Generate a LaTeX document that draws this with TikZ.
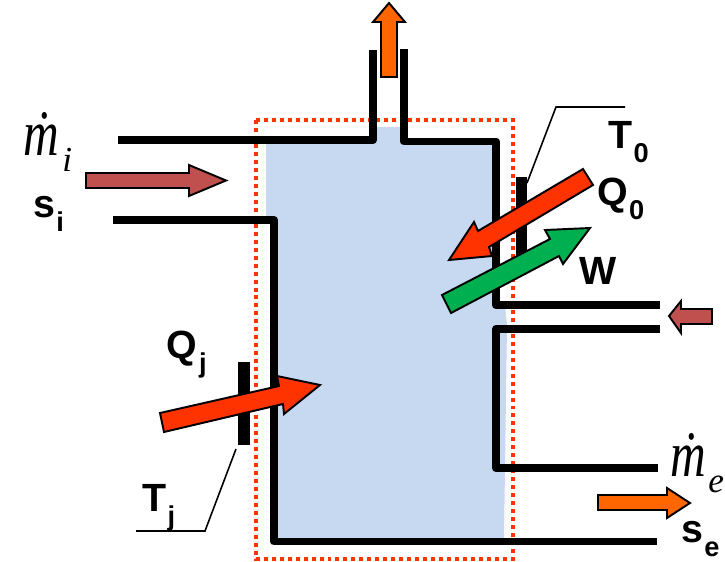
\documentclass[tikz,border=0pt]{standalone}
\usepackage{fontspec}
\setmainfont{Liberation Sans}
\newfontfamily\massfont{Liberation Serif}
\def\sublabel#1#2{{\fontsize{22.4}{24}\selectfont\bfseries #1\kern0.04em\raisebox{-0.36em}{\fontsize{15.5}{16}\selectfont #2}}}
\def\massflow#1{{\massfont\itshape\fontsize{37}{38}\selectfont\scalebox{0.76}[1]{ṁ}\kern1.5pt\raisebox{-0.25em}{\fontsize{20}{20}\selectfont #1}}}
\definecolor{basinblue}{HTML}{C6D9F1}
\definecolor{boundred}{HTML}{FF3300}
\definecolor{heatred}{HTML}{FF3300}
\definecolor{flowbrown}{HTML}{C0504D}
\definecolor{flowgreen}{HTML}{00B050}
\definecolor{floworange}{HTML}{FF6600}
\tikzset{
	wall/.style={line width=4.5pt, line join=round, color=black},
	boundary/.style={line width=2.3pt, color=boundred, dash pattern=on 2.27pt off 2.27pt},
	leader/.style={line width=0.9pt, color=black},
	blockarrow/.style={draw=black, line width=1.1pt, miter limit=6},
	lab/.style={anchor=base west, inner sep=0pt, outer sep=0pt},
}

\begin{document}
\begin{tikzpicture}[x=0.02cm, y=-0.02cm]
	\useasboundingbox (0, 0) rectangle (725, 562);
	%%%%% VOLUME %%%%%
	
	\fill[basinblue] (266, 144) -- (374, 144) -- (374, 127) -- (404, 127) -- (404, 140) -- (497, 140)
		-- (497, 300) -- (505, 305) -- (507, 325) -- (504, 540) -- (274, 540) -- (274, 220) -- (266, 220) -- cycle;
	
	\draw[boundary] (256, 120) rectangle (513, 559);
	
	%%%%% WALLS %%%%%
	
	\draw[wall] (118, 140) -- (373, 140) -- (373, 50);
	\draw[wall] (404, 49) -- (404, 141.5) -- (496, 141.5) -- (496, 305) -- (660, 305);
	\draw[wall] (660, 329) -- (496, 329) -- (496, 468) -- (658, 468);
	\draw[wall] (113, 220) -- (274, 220) -- (274, 541.5) -- (657, 541.5);
	
	\fill[black] (516, 177) rectangle (527, 256);
	\fill[black] (238, 362) rectangle (250, 445);
	\draw[leader] (527, 183) -- (556, 107) -- (625, 107);
	\draw[leader] (236, 449) -- (205, 531) -- (136, 531);
	
	%%%%% ARROWS %%%%%
	
	\draw[blockarrow, fill=flowbrown] (86, 173) -- (189, 173) -- (189, 165) -- (226, 180.5) -- (189, 196) -- (189, 188) -- (86, 188) -- cycle;
	\draw[blockarrow, fill=floworange] (381, 77) -- (381, 22) -- (373, 22) -- (389, 3) -- (405, 22) -- (397, 22) -- (397, 77) -- cycle;
	\draw[blockarrow, fill=heatred] (583, 169) -- (593, 185) -- (489, 247) -- (492, 256) -- (449, 260) -- (474, 222) -- (478, 231) -- cycle;
	\draw[blockarrow, fill=flowgreen] (442, 295) -- (550, 239) -- (545, 230) -- (590, 228) -- (563, 264) -- (559, 256) -- (451, 313) -- cycle;
	\draw[blockarrow, fill=heatred] (160, 413) -- (279, 386) -- (277, 376) -- (320, 385) -- (284, 414) -- (283, 404) -- (164, 432) -- cycle;
	\draw[blockarrow, fill=flowbrown] (712, 309) -- (681, 309) -- (681, 301) -- (669, 316) -- (681, 333) -- (681, 324) -- (712, 324) -- cycle;
	\draw[blockarrow, fill=floworange] (598, 495) -- (667, 495) -- (667, 488) -- (690, 503) -- (667, 518) -- (667, 510) -- (598, 510) -- cycle;
	
	%%%%% LABELS %%%%%
	
	\node[lab] (massin) at (24, 155) {\massflow{i}};
	\node[lab] (massout) at (670, 476) {\massflow{e}};
	\node[lab] (entropyin) at (33, 217) {\sublabel{s}{i}};
	\node[lab] (entropyout) at (681, 542) {\sublabel{s}{e}};
	\node[lab] (tempzero) at (608, 148) {\sublabel{T}{0}};
	\node[lab] (heatzero) at (597, 205) {\sublabel{Q}{0}};
	\node[lab] (work) at (579, 284) {\sublabel{W}{}};
	\node[lab] (heatj) at (167, 358) {\sublabel{Q}{j}};
	\node[lab] (tempj) at (142, 511) {\sublabel{T}{j}};
	
	%%%%% END %%%%%
\end{tikzpicture}
\end{document}
